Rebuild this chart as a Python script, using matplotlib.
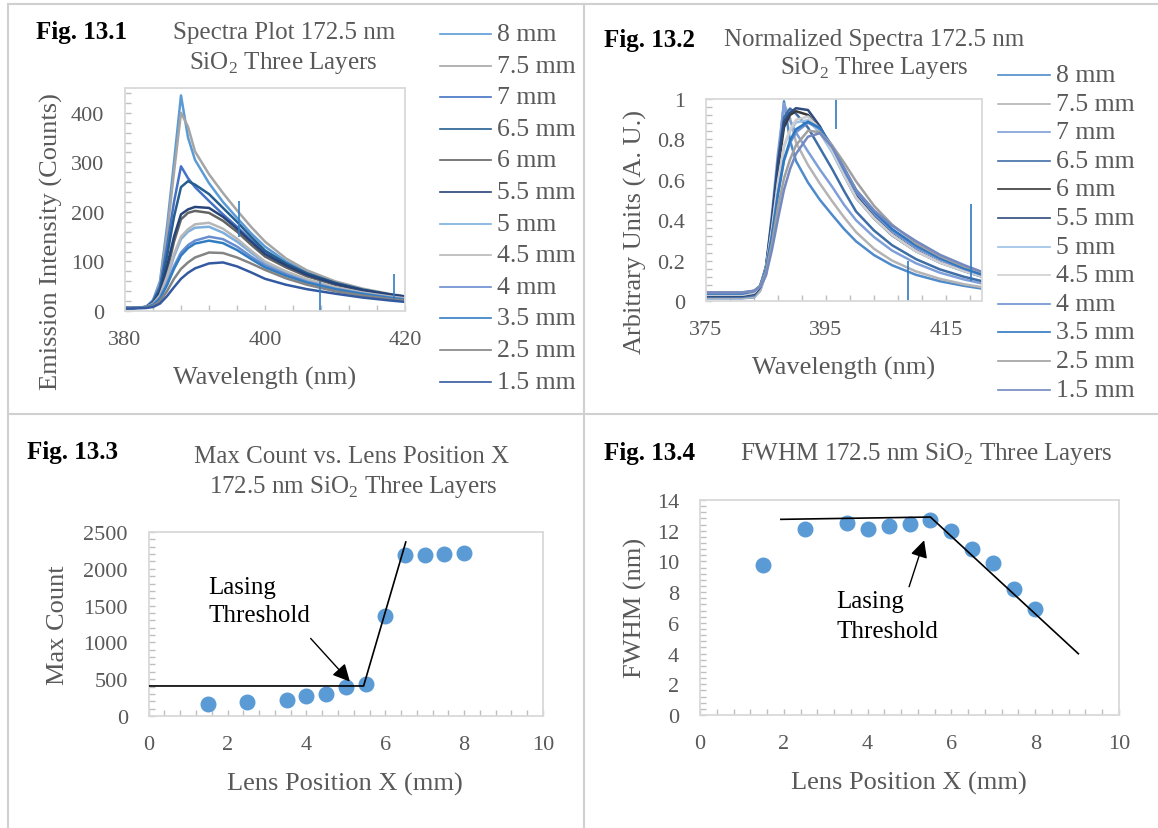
import numpy as np
import matplotlib.pyplot as plt
from matplotlib.lines import Line2D
from matplotlib.ticker import MultipleLocator

plt.rcParams['font.family'] = ['Liberation Serif', 'DejaVu Serif']
plt.rcParams['mathtext.fontset'] = 'custom'
plt.rcParams['mathtext.rm'] = 'Liberation Serif'

# ---------------- data ----------------
labels = ['8 mm', '7.5 mm', '7 mm', '6.5 mm', '6 mm', '5.5 mm',
          '5 mm', '4.5 mm', '4 mm', '3.5 mm', '2.5 mm', '1.5 mm']

wavelength = [375, 378, 381, 383, 384, 385, 386, 387, 388, 389, 390,
              392, 394, 396, 398, 400, 403, 406, 410, 414, 418, 421]

s_8_0 = [6, 6, 6, 8, 22, 60, 170, 300, 435, 350, 305, 258, 220, 188, 157, 130, 100, 78, 57, 43, 33, 27]
s_7_5 = [6, 6, 6, 8, 20, 55, 155, 280, 400, 372, 322, 276, 238, 203, 170, 140, 106, 82, 60, 45, 34, 28]
s_7_0 = [6, 6, 6, 8, 20, 50, 130, 220, 292, 268, 250, 222, 195, 170, 143, 120, 95, 75, 56, 42, 32, 26]
s_6_5 = [6, 6, 6, 8, 18, 45, 110, 190, 250, 262, 255, 236, 208, 180, 150, 122, 96, 76, 57, 43, 33, 27]
s_6_0 = [6, 6, 6, 8, 15, 35, 80, 140, 185, 198, 202, 198, 182, 160, 134, 110, 88, 70, 53, 41, 32, 26]
s_5_5 = [6, 6, 6, 8, 15, 38, 90, 150, 195, 205, 210, 208, 190, 166, 140, 115, 92, 73, 55, 42, 33, 27]
s_5_0 = [6, 6, 6, 8, 14, 30, 65, 110, 145, 160, 168, 170, 158, 140, 118, 97, 78, 62, 47, 36, 28, 23]
s_4_5 = [6, 6, 6, 8, 14, 32, 70, 115, 150, 165, 175, 178, 166, 146, 122, 100, 80, 64, 48, 37, 29, 24]
s_4_0 = [6, 6, 6, 8, 12, 27, 55, 90, 118, 133, 142, 150, 145, 130, 110, 92, 74, 59, 45, 35, 27, 22]
s_3_5 = [6, 6, 6, 8, 12, 25, 52, 85, 112, 127, 136, 142, 137, 123, 105, 88, 71, 57, 44, 34, 26, 21]
s_2_5 = [6, 6, 6, 7, 10, 20, 40, 65, 85, 98, 108, 118, 117, 108, 96, 83, 66, 53, 40, 31, 24, 20]
s_1_5 = [5, 5, 5, 6, 8, 15, 30, 48, 65, 77, 86, 96, 98, 90, 78, 65, 53, 44, 35, 27, 21, 17]
spectra = [s_8_0, s_7_5, s_7_0, s_6_5, s_6_0, s_5_5, s_5_0, s_4_5, s_4_0, s_3_5, s_2_5, s_1_5]

# highest raw count of each spectrum (noise included), used for normalizing
max_counts = [440, 410, 300, 275, 215, 220, 190, 195, 170, 160, 140, 118]

# single-channel spikes (wavelength, from, to)
spike1_wl = [396.3, 407.9, 418.4]
spike1_lo = [150, 0, 25]
spike1_hi = [221, 60, 75]
spike2_wl = [396.7, 408.6, 419.1]
spike2_lo = [0.85, 0.0, 0.10]
spike2_hi = [1.0, 0.20, 0.48]

lens_x = [1.5, 2.5, 3.5, 4, 4.5, 5, 5.5, 6, 6.5, 7, 7.5, 8]
max_count = [158, 186, 213, 276, 303, 399, 435, 1359, 2183, 2183, 2206, 2210]
fwhm = [9.77, 12.13, 12.48, 12.09, 12.33, 12.46, 12.68, 11.96, 10.79, 9.92, 8.18, 6.92]

fit3_x = [0, 5.45, 6.52]
fit3_y = [408, 408, 2364]
fit4_x = [1.93, 5.50, 9.03]
fit4_y = [12.74, 12.89, 3.99]

colors1 = ['#5B9BD5', '#A5A5A5', '#4472C4', '#255E91', '#636363', '#264478',
           '#7CAFDD', '#B7B7B7', '#698ED0', '#327DC2', '#848484', '#335AA1']
colors2 = ['#4F8ACB', '#B4B4B4', '#7F9FD8', '#3F6EA6', '#3A3A3A', '#2F4A7C',
           '#9CC0E6', '#CFCFCF', '#6E91D2', '#2F78C0', '#A0A0A0', '#7389C0']

# ---------------- layout helpers ----------------
W, H = 1158, 829
fig = plt.figure(figsize=(W / 100, H / 100), dpi=100)
GRAY = '#595959'


def fx(px):
    return px / W


def fy(py):
    return 1 - py / H


def box(l, t, r, b):
    return [fx(l), fy(b), (r - l) / W, (b - t) / H]


def style(ax, xmaj, xmin, ymaj, ymin, xoff=0):
    for s in ax.spines.values():
        s.set_color('#D9D9D9')
        s.set_linewidth(1.3)
    ax.xaxis.set_major_locator(MultipleLocator(xmaj, offset=xoff))
    ax.xaxis.set_minor_locator(MultipleLocator(xmin, offset=xoff))
    ax.yaxis.set_major_locator(MultipleLocator(ymaj))
    ax.yaxis.set_minor_locator(MultipleLocator(ymin))
    ax.tick_params(which='both', direction='in', color='#BFBFBF', length=4,
                   width=1, labelsize=16, labelcolor=GRAY)
    ax.tick_params(axis='x', pad=13.5)
    ax.tick_params(axis='y', pad=15)


def legend(x0, x1, xt, y0, dy, cols):
    for i, (lab, c) in enumerate(zip(labels, cols)):
        y = y0 + i * dy
        fig.add_artist(Line2D([fx(x0), fx(x1)], [fy(y), fy(y)], color=c, lw=1.2))
        fig.text(fx(xt), fy(y), lab, ha='left', va='center', fontsize=18.5, color=GRAY)


def label(x, y, s, size=18, rot=0, color=GRAY, weight='normal', ha='center'):
    fig.text(fx(x), fy(y), s, ha=ha, va='center', fontsize=size, rotation=rot,
             color=color, fontweight=weight)


# table borders
for xs, ys in [([8, W], [5, 5]), ([8, W], [415, 415]), ([8, 8], [5, H]), ([583.5, 583.5], [5, H])]:
    fig.add_artist(Line2D([fx(v) for v in xs], [fy(v) for v in ys], color='#D0D0D0', lw=1.5))

# ---------------- Fig 13.1 ----------------
ax1 = fig.add_axes(box(125, 89, 405, 312))
for s, c in zip(spectra, colors1):
    ax1.plot(wavelength, s, color=c, lw=1.8)
for w, lo, hi in zip(spike1_wl, spike1_lo, spike1_hi):
    ax1.vlines(w, lo, hi, color='#327DC2', lw=1.2)
ax1.set_xlim(380, 420)
ax1.set_ylim(0, 450)
style(ax1, 20, 4, 100, 20)

label(36, 33, 'Fig. 13.1', size=18, color='black', weight='bold', ha='left')
label(284, 33, 'Spectra Plot 172.5 nm')
label(283, 63, r'SiO$_\mathrm{2}$ Three Layers')
label(265, 378, 'Wavelength (nm)', size=19)
label(51, 242, 'Emission Intensity (Counts)', size=19, rot=90)
legend(440, 491, 497, 35, 31.6, colors1)

# ---------------- Fig 13.2 ----------------
ax2 = fig.add_axes(box(706, 100, 982, 302))
for s, m, c in zip(spectra, max_counts, colors2):
    ax2.plot(wavelength, np.array(s) / m, color=c, lw=1.8)
for w, lo, hi in zip(spike2_wl, spike2_lo, spike2_hi):
    ax2.vlines(w, lo, hi, color='#2F78C0', lw=1.2)
ax2.set_xlim(375, 421)
ax2.set_ylim(0, 1)
style(ax2, 20, 4, 0.2, 0.04, xoff=15)
ax2.yaxis.set_major_formatter(plt.FuncFormatter(lambda v, p: f'{v:g}'))

label(604, 40, 'Fig. 13.2', size=18, color='black', weight='bold', ha='left')
label(874, 40, 'Normalized Spectra 172.5 nm')
label(874, 68, r'SiO$_\mathrm{2}$ Three Layers')
label(844, 368, 'Wavelength (nm)', size=19)
label(635, 232, 'Arbitrary Units (A. U.)', size=19, rot=90)
legend(998, 1050, 1056, 76, 28.6, colors2)

# ---------------- Fig 13.3 ----------------
ax3 = fig.add_axes(box(148.7, 533, 543, 717))
ax3.scatter(lens_x, max_count, s=110, color='#5B9BD5', zorder=2)
ax3.plot(fit3_x, fit3_y, color='black', lw=1.2, zorder=3)
ax3.annotate('', xy=(5.15, 439), xytext=(4.06, 1082),
             arrowprops=dict(arrowstyle='-|>', color='black', lw=1, mutation_scale=26))
ax3.text(1.51, 1753, 'Lasing', fontsize=18, va='center', ha='left')
ax3.text(1.51, 1368, 'Threshold', fontsize=18, va='center', ha='left')
ax3.set_xlim(0, 10)
ax3.set_ylim(0, 2500)
style(ax3, 2, 0.4, 500, 100)

label(27, 453, 'Fig. 13.3', size=18, color='black', weight='bold', ha='left')
label(352, 457, 'Max Count vs. Lens Position X')
label(353, 487, r'172.5 nm SiO$_\mathrm{2}$ Three Layers')
label(345, 784, 'Lens Position X (mm)', size=19)
label(58, 625, 'Max Count', size=19, rot=90)

# ---------------- Fig 13.4 ----------------
ax4 = fig.add_axes(box(700, 501, 1119, 716))
ax4.scatter(lens_x, fwhm, s=110, color='#5B9BD5', zorder=2)
ax4.plot(fit4_x, fit4_y, color='black', lw=1.2, zorder=3)
ax4.annotate('', xy=(5.37, 11.55), xytext=(4.97, 8.18),
             arrowprops=dict(arrowstyle='-|>', color='black', lw=1, mutation_scale=26))
ax4.text(3.25, 7.42, 'Lasing', fontsize=18, va='center', ha='left')
ax4.text(3.25, 5.47, 'Threshold', fontsize=18, va='center', ha='left')
ax4.set_xlim(0, 10)
ax4.set_ylim(0, 14)
style(ax4, 2, 0.4, 2, 0.4)

label(604, 454, 'Fig. 13.4', size=18, color='black', weight='bold', ha='left')
label(926, 454, r'FWHM 172.5 nm SiO$_\mathrm{2}$ Three Layers')
label(909, 783, 'Lens Position X (mm)', size=19)
label(635, 608, 'FWHM (nm)', size=19, rot=90)

fig.savefig('out.png', dpi=100)
